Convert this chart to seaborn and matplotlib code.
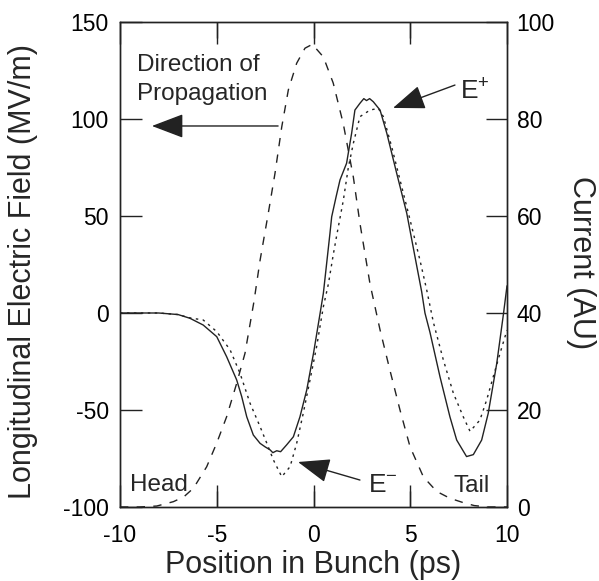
import matplotlib
matplotlib.use("Agg")
import matplotlib.pyplot as plt
import seaborn as sns
import pandas as pd

# ---------------- data ----------------
# Measured longitudinal field (solid), MV/m
pos_meas = [-10, -9, -8, -7, -6.39, -5.70, -5.0, -4.49, -3.97, -3.71, -3.45, -3.11,
            -2.76, -2.5, -2.25, -2.1, -1.90, -1.7, -1.39, -1.04, -0.70, -0.35, 0.0,
            0.34, 0.51, 0.85, 0.94, 1.17, 1.37, 1.71, 1.97, 2.14, 2.40, 2.6, 2.74,
            2.9, 3.09, 3.44, 3.79, 4.30, 4.82, 5.34, 5.59, 5.76, 6.02, 6.54, 7.05,
            7.40, 7.91, 8.26, 8.69, 9.03, 9.47, 9.81, 10]
field_meas = [0, 0, 0, -0.8, -2.7, -6.2, -12.2, -22.5, -34.5, -43.1, -53.5, -62.9,
              -67.2, -69, -70.5, -72, -71, -71.5, -68, -63.8, -53.5, -39.7, -20.8,
              -0.2, 10.2, 41, 49.6, 60, 68.6, 77.2, 92.6, 104.6, 108.1, 110.5, 109.5,
              110.5, 108.9, 104.6, 92.6, 72, 51.4, 24, 11, 0, -10, -33, -53.5,
              -65.5, -74, -73, -65.5, -51.7, -26, -1, 14]

# Simulated longitudinal field (dotted), MV/m
pos_sim = [-10, -8, -7, -6.4, -5.7, -5.0, -4.31, -3.80, -3.28, -2.76, -2.41, -2.07,
           -1.64, -1.21, -0.87, -0.53, -0.18, 0.16, 0.51, 0.77, 1.02, 1.20, 1.54,
           1.80, 2.06, 2.40, 2.92, 3.35, 3.61, 4.04, 4.47, 4.99, 5.50, 5.85, 6.20,
           6.71, 7.23, 7.74, 8.09, 8.60, 8.95, 9.29, 9.64, 10]
field_sim = [0, 0, -0.8, -2.5, -3.6, -9.6, -19, -31, -46.5, -58.6, -67.2, -75.8,
             -84.4, -79.2, -67.2, -51.7, -34.5, -17.4, 3.3, 15, 30, 40, 58,
             75, 87.5, 101.2, 104.6, 105.5, 101.2, 85.7, 68.6, 48, 27.3, 11.9, -5,
             -24.2, -41.4, -53.5, -61, -55.2, -44.8, -32.8, -20.8, -8.8]

# Bunch current (dashed), arbitrary units (right axis)
pos_cur = [-10, -9, -8.1, -7.24, -6.7, -6.2, -5.52, -5.0, -4.49, -3.97, -3.54, -3.08,
           -2.76, -2.34, -1.99, -1.64, -1.30, -0.87, -0.44, -0.06, 0.51, 1.02, 1.54,
           2.06, 2.40, 2.92, 3.44, 3.95, 4.47, 4.99, 5.68, 6.37, 7.05, 7.74, 8.3,
           9, 10]
current = [0, 0, 0.2, 1.1, 2.1, 3.9, 8.3, 13.2, 18.6, 25.5, 31.7, 42.3,
           50.9, 60.5, 68.8, 78.4, 86, 91.5, 94.6, 95.4, 92.8, 87.4, 79,
           68, 58.5, 46, 36.5, 28.2, 20, 12.4, 6.2, 3.2, 1.8, 0.9, 0.3,
           0, 0]

x_ticks = [-10, -5, 0, 5, 10]
y_left_ticks = [-100, -50, 0, 50, 100, 150]
y_right_ticks = [0, 20, 40, 60, 80, 100]

# ---------------- style ----------------
sns.set_style("ticks")
ink = "#222222"
plt.rcParams.update({
    "font.family": ["Liberation Sans", "DejaVu Sans"],
    "mathtext.fontset": "custom",
    "mathtext.rm": "Liberation Sans",
    "axes.unicode_minus": False,
    "axes.axisbelow": False,
    "xtick.direction": "in", "ytick.direction": "in",
    "xtick.major.size": 16, "ytick.major.size": 16,
    "xtick.major.width": 1.0, "ytick.major.width": 1.0,
    "xtick.color": ink, "ytick.color": ink,
    "xtick.labelcolor": "black", "ytick.labelcolor": "black",
    "xtick.top": True,
})

fig = plt.figure(figsize=(5.99, 5.81), dpi=100)
ax = fig.add_axes([120 / 599, 1 - 507 / 581, 387 / 599, 485 / 581])
ax2 = ax.twinx()

df_meas = pd.DataFrame({"pos": pos_meas, "field": field_meas})
df_sim = pd.DataFrame({"pos": pos_sim, "field": field_sim})
df_cur = pd.DataFrame({"pos": pos_cur, "current": current})

sns.lineplot(data=df_meas, x="pos", y="field", ax=ax, color=ink, lw=1.0,
             errorbar=None, sort=False)
sns.lineplot(data=df_sim, x="pos", y="field", ax=ax, color=ink, lw=1.0,
             errorbar=None, sort=False, linestyle=(0, (1.8, 3.2)))
sns.lineplot(data=df_cur, x="pos", y="current", ax=ax2, color=ink, lw=1.0,
             errorbar=None, sort=False, linestyle=(0, (6, 6)))

ax.set_xlim(-10, 10)
ax.set_ylim(-100, 150)
ax2.set_ylim(0, 100)
ax.set_xticks(x_ticks)
ax.set_yticks(y_left_ticks)
ax2.set_yticks(y_right_ticks)

for a in (ax, ax2):
    for s in a.spines.values():
        s.set_color(ink)
        s.set_linewidth(1.0)

ax.tick_params(axis="x", which="major", direction="in", length=16, width=1,
               bottom=True, top=True, labelsize=16.5, pad=12)
ax.tick_params(axis="y", which="major", direction="in", length=16, width=1,
               left=True, right=False, labelsize=16.5, pad=8)
ax2.tick_params(axis="y", which="major", direction="in", length=15, width=1,
                right=True, left=False, labelsize=16.5, pad=7)

# inward x tick marks at bottom and top, drawn in axis-blended coordinates
tick_frac = 16 / 485
xt = ax.get_xaxis_transform()
ax.vlines(x_ticks[1:-1], 0, tick_frac, transform=xt, color=ink, lw=1.0, zorder=4)
ax.vlines(x_ticks[1:-1], 1 - tick_frac, 1, transform=xt, color=ink, lw=1.0, zorder=4)

ax.set_xlabel("Position in Bunch (ps)", fontsize=22)
ax.xaxis.set_label_coords(0.5, -0.088)
ax.set_ylabel("Longitudinal Electric Field (MV/m)", fontsize=22)
ax.yaxis.label.set_va("center")
ax.yaxis.set_label_coords(-0.25, 0.485)
ax2.set_ylabel("Current (AU)", fontsize=22, rotation=270)
ax2.yaxis.label.set_va("center")
ax2.yaxis.set_label_coords(1.19, 0.503)

# ---------------- annotations ----------------
fs = 17.5
ax.text(-9.12, 124.7, "Direction of", fontsize=fs, ha="left", va="baseline")
ax.text(-9.12, 109.8, "Propagation", fontsize=fs, ha="left", va="baseline")
ax.text(-9.48, -91.8, "Head", fontsize=fs, ha="left", va="baseline")
ax.text(7.21, -92.3, "Tail", fontsize=fs, ha="left", va="baseline")
ax.text(7.57, 110.8, r"$\mathrm{E}^{+}$", fontsize=19, ha="left", va="baseline")
ax.text(2.82, -92.3, r"$\mathrm{E}^{-}$", fontsize=19, ha="left", va="baseline")

arrow = dict(arrowstyle="-|>,head_length=1.0,head_width=0.38", color=ink, lw=1.0,
             mutation_scale=20, shrinkA=0, shrinkB=0)
ax.annotate("", xy=(-8.35, 96.4), xytext=(-1.83, 96.4), arrowprops=arrow)
ax.annotate("", xy=(4.11, 105.7), xytext=(7.31, 117.5), arrowprops=arrow)
ax.annotate("", xy=(-0.80, -76.8), xytext=(2.40, -86.1), arrowprops=arrow)

fig.savefig("out.png", dpi=100)
